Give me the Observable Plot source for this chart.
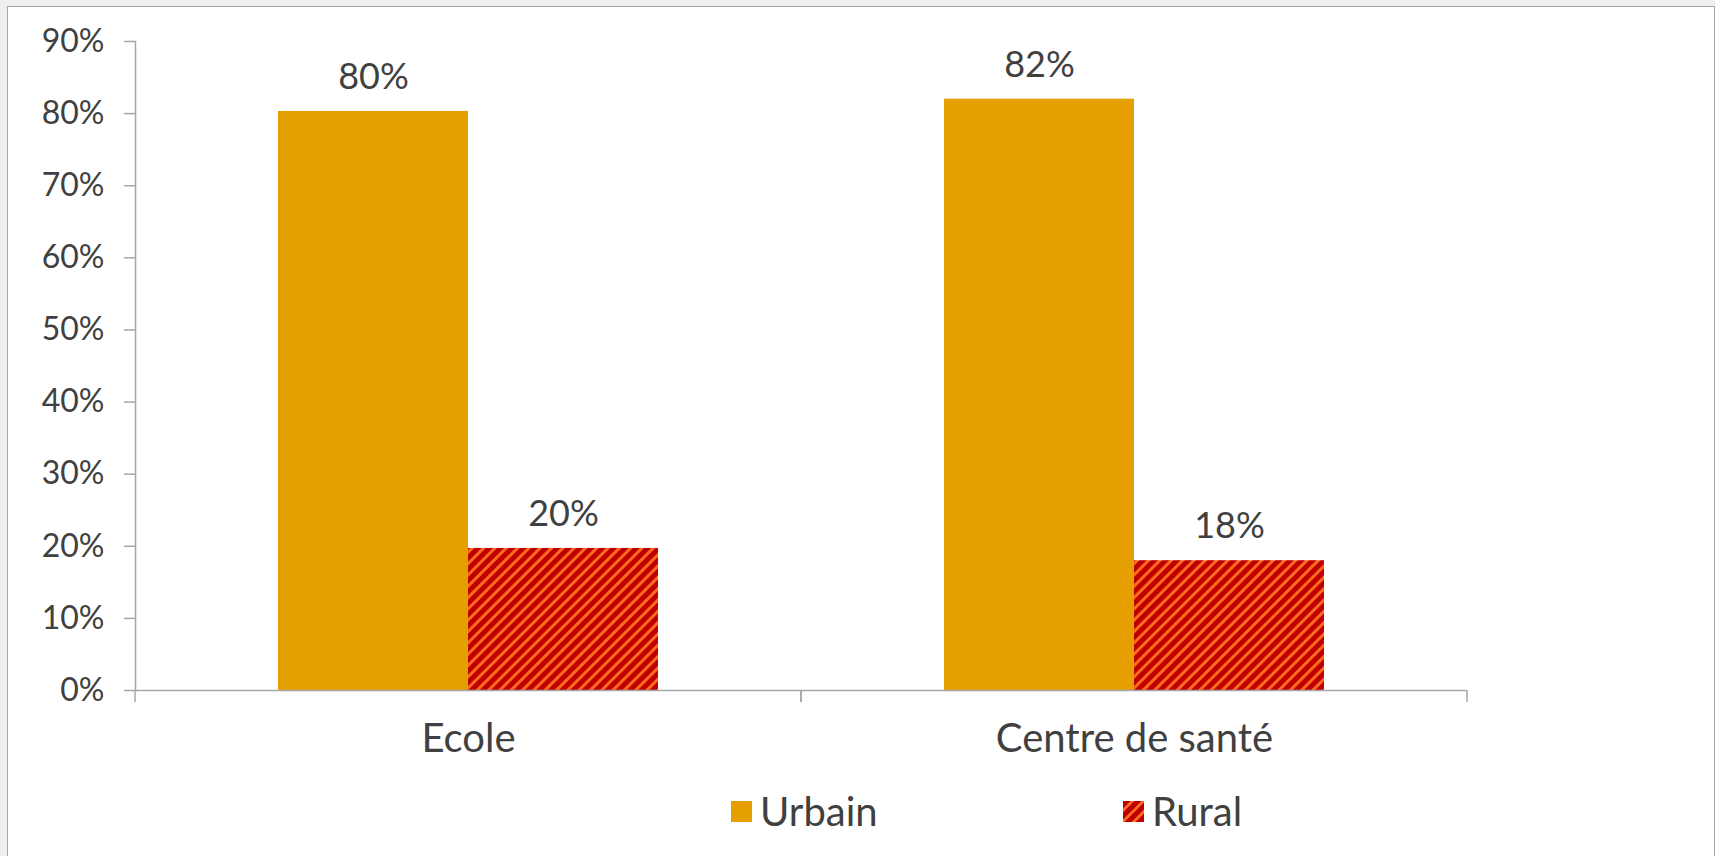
<!DOCTYPE html>
<html>
<head>
<meta charset="utf-8">
<script src="https://cdn.jsdelivr.net/npm/d3@7"></script>
<script src="https://cdn.jsdelivr.net/npm/@observablehq/plot@0.6"></script>
<style>
html, body { margin: 0; padding: 0; }
body { width: 1715px; height: 856px; overflow: hidden; background: #efefef; position: relative; font-family: Lato, "Open Sans", sans-serif; }
#panel { position: absolute; left: 7px; top: 6px; width: 1708px; height: 870px; background: #fff; border: 1.5px solid #a6a6a6; box-sizing: border-box; }
#chart { position: absolute; left: 0; top: 0; }
#legend { position: absolute; left: 0; top: 791px; width: 1715px; height: 40px; }
.item { position: absolute; top: 0; height: 40px; display: flex; align-items: center; font-size: 40px; color: #404040; }
.sw { width: 21px; height: 21px; margin-right: 8px; }
</style>
</head>
<body>
<div id="panel"></div>
<div id="chart"></div>
<div id="legend"></div>
<script>
// ---- data ----
const categories = ["Ecole", "Centre de santé"];
const series = ["Urbain", "Rural"];
const urbainValues = [0.803, 0.82];
const ruralValues = [0.197, 0.18];
const yTicks = [0, 0.1, 0.2, 0.3, 0.4, 0.5, 0.6, 0.7, 0.8, 0.9];
const seriesColors = ["#E69F00", "url(#rural-hatch)"];

const rows = categories.flatMap((c, i) => [
  {category: c, series: series[0], value: urbainValues[i]},
  {category: c, series: series[1], value: ruralValues[i]}
]);

const pct = d3.format(".0%");
const axisColor = "#a6a6a6";
const textColor = "#404040";

// category boundary ticks below the baseline (drawn in each facet)
const boundaryTicks = (index, scales, values, dims) => {
  const g = d3.create("svg:g").attr("stroke", axisColor).attr("stroke-width", 1.5);
  const y0 = scales.y(0);
  for (const x of [dims.marginLeft, dims.width - dims.marginRight]) {
    g.append("line").attr("x1", x).attr("x2", x).attr("y1", y0).attr("y2", y0 + 12);
  }
  return g.node();
};

const chart = Plot.plot({
  width: 1715,
  height: 780,
  marginLeft: 135,
  marginRight: 248,
  marginTop: 41,
  marginBottom: 90,
  style: {background: "transparent", fontFamily: "Lato, 'Open Sans', sans-serif", fontSize: "32px", color: textColor},
  fx: {domain: categories, padding: 0, axis: null},
  x: {domain: series, paddingInner: 0, paddingOuter: 0.75, axis: null},
  y: {domain: [0, 0.9], axis: null},
  color: {domain: series, range: seriesColors},
  marks: [
    Plot.barY(rows, {fx: "category", x: "series", y: "value", fill: "series"}),
    Plot.ruleY([0], {stroke: axisColor, strokeWidth: 1.5}),
    boundaryTicks,
    Plot.frame({anchor: "left", facetAnchor: "left", stroke: axisColor, strokeWidth: 1.5}),
    Plot.axisY({ticks: yTicks, tickFormat: pct, tickSize: 11, tickPadding: 20, label: null, stroke: axisColor, strokeWidth: 1.5, fill: textColor, fontSize: 32}),
    Plot.axisFx({anchor: "bottom", tickSize: 0, tickPadding: 33, label: null, fill: textColor, fontSize: 40}),
    Plot.text(rows, {fx: "category", x: "series", y: "value", text: d => pct(d.value), dy: -34, fill: textColor, fontSize: 36})
  ]
});

d3.select(chart).insert("defs", ":first-child").html(
  '<pattern id="rural-hatch" patternUnits="userSpaceOnUse" width="8" height="8" patternTransform="rotate(45)">' +
  '<rect width="8" height="8" fill="#c00000"></rect><rect width="3" height="8" fill="#ff6a21"></rect></pattern>'
);
document.getElementById("chart").appendChild(chart);

// ---- legend ----
const legendPos = [731, 1123];
const legendFills = ["#E69F00", "repeating-linear-gradient(135deg, #c00000 0 5px, #ff6a21 5px 8px)"];
const legend = d3.select("#legend");
series.forEach((s, i) => {
  const it = legend.append("div").attr("class", "item").style("left", legendPos[i] + "px");
  it.append("div").attr("class", "sw").style("background", legendFills[i]);
  it.append("span").text(s);
});
</script>
</body>
</html>
